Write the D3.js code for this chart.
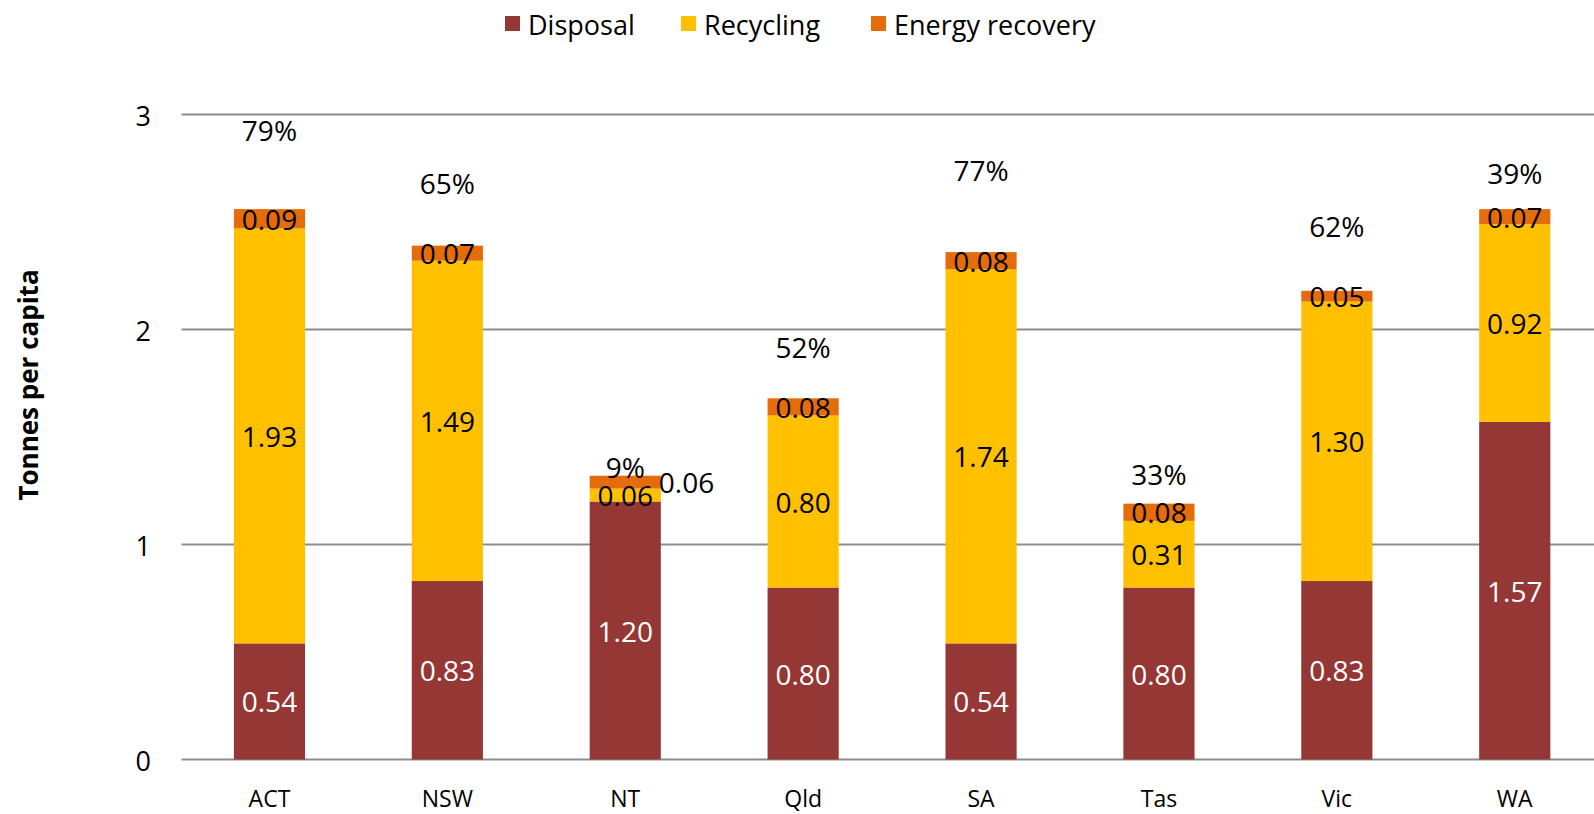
<!DOCTYPE html>
<html>
<head>
<meta charset="utf-8">
<script src="https://cdn.jsdelivr.net/npm/d3@7"></script>
<style>
  html, body { margin: 0; padding: 0; background: #ffffff; }
  svg { display: block; font-family: "Open Sans", "DejaVu Sans", sans-serif; }
</style>
</head>
<body>
<svg id="chart" width="1594" height="814"></svg>
<script>
// ---- data ----
const categories = ["ACT", "NSW", "NT", "Qld", "SA", "Tas", "Vic", "WA"];
const disposal   = [0.54, 0.83, 1.20, 0.80, 0.54, 0.80, 0.83, 1.57];
const recycling  = [1.93, 1.49, 0.06, 0.80, 1.74, 0.31, 1.30, 0.92];
const energy     = [0.09, 0.07, 0.06, 0.08, 0.08, 0.08, 0.05, 0.07];
const recoveryRate = ["79%", "65%", "9%", "52%", "77%", "33%", "62%", "39%"];
const rateLabelAt  = [2.93, 2.68, 1.36, 1.92, 2.74, 1.33, 2.48, 2.73]; // value-axis anchor of the rate labels
const yTicks = [0, 1, 2, 3];
const seriesNames = ["Disposal", "Recycling", "Energy recovery"];
const seriesColors = ["#953735", "#FFC000", "#E46C0A"];
const labelColors = ["#ffffff", "#000000", "#000000"];

// ---- layout ----
const W = 1594, H = 814;
const svg = d3.select("#chart");

const x = d3.scaleBand()
  .domain(categories)
  .range([180.5, 1603.7])
  .paddingInner(0.6)
  .paddingOuter(0.3);

const y = d3.scaleLinear()
  .domain([0, 3])
  .range([759.5, 114.5]);

const rows = categories.map((c, i) => ({
  cat: c,
  Disposal: disposal[i],
  Recycling: recycling[i],
  "Energy recovery": energy[i]
}));
const stacked = d3.stack().keys(seriesNames)(rows);

// gridlines
svg.append("g").selectAll("line")
  .data(yTicks)
  .join("line")
  .attr("x1", 181.5)
  .attr("x2", W)
  .attr("y1", d => y(d))
  .attr("y2", d => y(d))
  .attr("stroke", "#8c8c8c")
  .attr("stroke-width", 1.8);

// y axis tick labels
const yAxis = d3.axisLeft(y).tickValues(yTicks).tickSize(0).tickPadding(0).tickFormat(d3.format("d"));
const yg = svg.append("g").attr("transform", "translate(151,2)").call(yAxis);
yg.select(".domain").remove();
yg.selectAll("text")
  .attr("font-family", "'Open Sans', sans-serif")
  .attr("font-size", 27)
  .attr("fill", "#000");

// x axis labels
const xAxis = d3.axisBottom(x).tickSize(0).tickPadding(0);
const xg = svg.append("g").attr("transform", "translate(0,0)").call(xAxis);
xg.select(".domain").remove();
xg.selectAll("text")
  .attr("y", 798)
  .attr("dy", null)
  .attr("dominant-baseline", "central")
  .attr("font-family", "'Open Sans', sans-serif")
  .attr("font-size", 23)
  .attr("fill", "#000");

// y-axis title
svg.append("text")
  .attr("transform", "translate(28,385) rotate(-90)")
  .attr("text-anchor", "middle")
  .attr("dominant-baseline", "central")
  .attr("font-weight", "bold")
  .attr("font-size", 26)
  .attr("fill", "#000")
  .text("Tonnes per capita");

// bars
const layers = svg.append("g").selectAll("g")
  .data(stacked)
  .join("g")
  .attr("fill", (d, i) => seriesColors[i]);

layers.selectAll("rect")
  .data(d => d)
  .join("rect")
  .attr("x", d => x(d.data.cat))
  .attr("width", x.bandwidth())
  .attr("y", d => y(d[1]))
  .attr("height", d => y(d[0]) - y(d[1]));

// segment value labels
stacked.forEach((layer, si) => {
  svg.append("g").selectAll("text")
    .data(layer)
    .join("text")
    .each(function (d, ci) {
      const t = d3.select(this);
      const mid = (d[0] + d[1]) / 2;
      // energy label placed outside when the segment beneath is too thin to separate labels
      const outside = si === 2 && recycling[ci] < 0.1;
      t.attr("x", outside ? x(d.data.cat) + x.bandwidth() - 2 : x(d.data.cat) + x.bandwidth() / 2)
       .attr("y", y(mid))
       .attr("text-anchor", outside ? "start" : "middle");
    })
    .attr("dominant-baseline", "central")
    .attr("font-size", 28)
    .attr("fill", labelColors[si])
    .text(d => d3.format(".2f")(d[1] - d[0]));
});

// recovery rate labels
svg.append("g").selectAll("text")
  .data(categories)
  .join("text")
  .attr("x", c => x(c) + x.bandwidth() / 2)
  .attr("y", (c, i) => y(rateLabelAt[i]))
  .attr("text-anchor", "middle")
  .attr("dominant-baseline", "central")
  .attr("font-size", 28)
  .attr("fill", "#000")
  .text((c, i) => recoveryRate[i]);

// legend
const legendX = [505, 681, 871];
const lg = svg.append("g").selectAll("g")
  .data(seriesNames)
  .join("g")
  .attr("transform", (d, i) => `translate(${legendX[i]},0)`);
lg.append("rect")
  .attr("x", 0).attr("y", 16)
  .attr("width", 15).attr("height", 15)
  .attr("fill", (d, i) => seriesColors[i]);
lg.append("text")
  .attr("x", 23).attr("y", 24)
  .attr("dominant-baseline", "central")
  .attr("font-size", 27)
  .attr("fill", "#000")
  .text(d => d);
</script>
</body>
</html>
